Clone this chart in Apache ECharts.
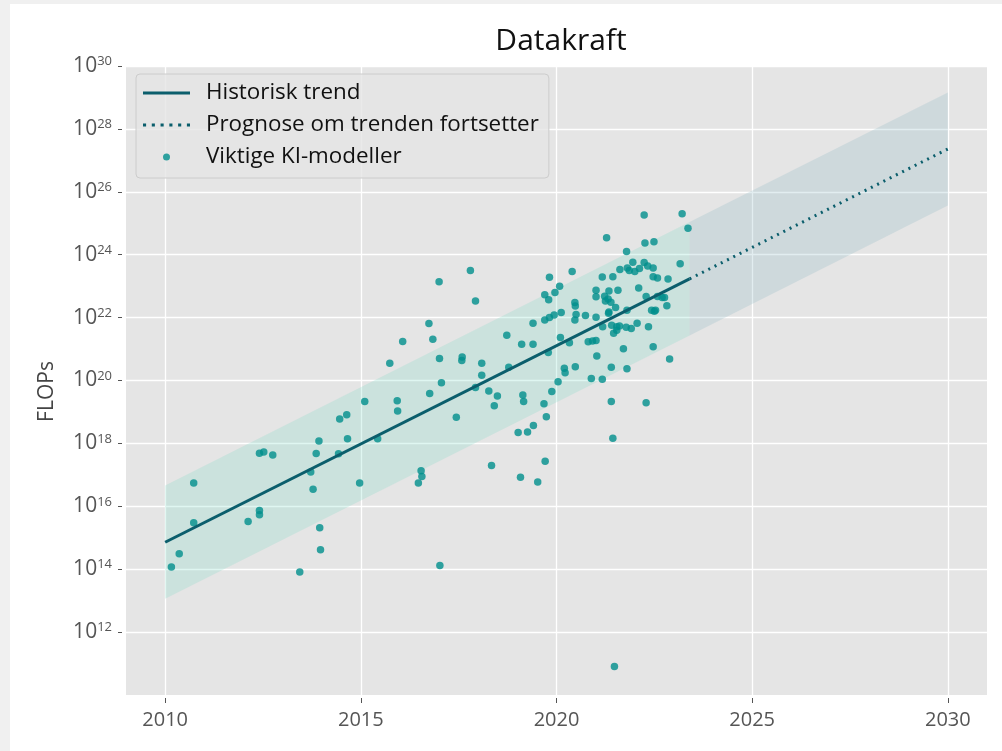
<!DOCTYPE html>
<html>
<head>
<meta charset="utf-8">
<title>Datakraft</title>
<script src="https://cdn.jsdelivr.net/npm/echarts@6.0.0/dist/echarts.min.js"></script>
<style>
  html, body { margin: 0; padding: 0; background: #f0f0f0; }
  #chart {
    position: absolute;
    left: 10px;
    top: 4px;
    width: 992px;
    height: 747px;
    background: #ffffff;
  }
</style>
</head>
<body>
<div id="chart"></div>
<script>
// tick positions
const yearTicks = [2010, 2015, 2020, 2025, 2030];
const flopTicks = [1e12, 1e14, 1e16, 1e18, 1e20, 1e22, 1e24, 1e26, 1e28, 1e30];

// historical trend + projection
const trendYears = [2010, 2023.4];
const trendFlops = [7.2e14, 1.7e23];
const forecastYears = [2023.4, 2030];
const forecastFlops = [1.7e23, 2.3e27];

// uncertainty bands
const bandYears = [2010, 2023.4];
const bandLow = [1.15e13, 2.7e21];
const bandHigh = [4.6e16, 1.1e25];
const forecastBandYears = [2023.4, 2030];
const forecastBandLow = [2.7e21, 3.7e25];
const forecastBandHigh = [1.1e25, 1.45e29];

// notable models: publication year and log10(FLOPs)
const modelYears = [
  2010.16, 2010.36, 2010.73, 2010.73, 2012.12, 2012.41, 2012.41, 2012.41, 2012.52, 2012.75,
  2013.44, 2013.72, 2013.78, 2013.86, 2013.93, 2013.95, 2013.97, 2014.43, 2014.66, 2014.46,
  2014.64, 2014.97, 2015.10, 2015.43, 2015.74, 2015.93, 2015.94, 2016.07, 2016.47, 2016.54,
  2016.56, 2016.74, 2016.76, 2016.84, 2017.00, 2017.01, 2017.06, 2017.02, 2017.44, 2017.59,
  2017.58, 2017.80, 2017.93, 2017.93, 2018.09, 2018.09, 2018.27, 2018.34, 2018.41, 2018.49,
  2018.73, 2018.78, 2019.02, 2019.08, 2019.11, 2019.14, 2019.16, 2019.26, 2019.40, 2019.40,
  2019.41, 2019.52, 2019.68, 2019.70, 2019.70, 2019.71, 2019.74, 2019.79, 2019.80, 2019.82,
  2019.82, 2019.88, 2019.94, 2019.96, 2020.04, 2020.08, 2020.10, 2020.12, 2020.20, 2020.22,
  2020.33, 2020.40, 2020.47, 2020.48, 2020.47, 2020.50, 2020.48, 2020.74, 2020.81, 2020.92,
  2021.01, 2020.89, 2021.01, 2021.01, 2021.01, 2021.03, 2021.17, 2021.17, 2021.18, 2021.23,
  2021.25, 2021.28, 2021.32, 2021.33, 2021.34, 2021.34, 2021.39, 2021.40, 2021.40, 2021.41,
  2021.44, 2021.44, 2021.46, 2021.48, 2021.51, 2021.54, 2021.54, 2021.57, 2021.61, 2021.62,
  2021.71, 2021.78, 2021.79, 2021.80, 2021.80, 2021.81, 2021.86, 2021.91, 2021.95, 2022.00,
  2022.06, 2022.10, 2022.12, 2022.24, 2022.24, 2022.26, 2022.29, 2022.29, 2022.33, 2022.35,
  2022.43, 2022.47, 2022.47, 2022.47, 2022.49, 2022.50, 2022.53, 2022.58, 2022.58, 2022.70,
  2022.76, 2022.82, 2022.85, 2022.89, 2023.16, 2023.21, 2023.36
];
const modelLog10Flops = [
  14.07, 14.49, 16.74, 15.48, 15.52, 15.87, 15.73, 17.69, 17.73, 17.63,
  13.91, 17.09, 16.54, 17.68, 18.08, 15.32, 14.62, 17.67, 18.15, 18.78,
  18.91, 16.74, 19.33, 18.15, 20.55, 19.36, 19.03, 21.24, 16.74, 17.13,
  16.95, 21.81, 19.59, 21.31, 23.14, 20.70, 19.93, 14.12, 18.83, 20.75,
  20.64, 23.50, 22.53, 19.78, 20.55, 20.17, 19.67, 17.30, 19.20, 19.51,
  21.44, 20.42, 18.35, 16.92, 21.15, 19.54, 19.33, 18.36, 21.82, 21.15,
  18.57, 16.77, 19.26, 22.73, 21.92, 17.43, 18.85, 20.89, 22.57, 23.28,
  22.00, 19.65, 22.08, 22.80, 19.96, 23.00, 21.37, 22.16, 20.39, 20.25,
  21.20, 23.47, 22.48, 22.37, 21.92, 22.10, 20.44, 22.07, 21.23, 21.26,
  21.27, 20.06, 22.87, 22.66, 22.01, 20.78, 23.29, 20.04, 21.71, 22.68,
  22.53, 24.54, 22.59, 22.14, 22.85, 22.18, 22.49, 20.42, 19.33, 21.76,
  23.30, 18.16, 21.50, 10.91, 22.32, 21.71, 21.60, 22.87, 21.73, 23.53,
  21.01, 21.69, 24.10, 22.23, 20.37, 23.58, 23.50, 21.65, 23.76, 23.47,
  21.82, 22.94, 23.56, 25.26, 23.75, 24.37, 22.67, 19.29, 23.64, 21.71,
  22.23, 23.58, 23.30, 21.07, 24.41, 22.20, 22.23, 23.26, 22.67, 22.64,
  22.64, 22.38, 23.23, 20.68, 23.71, 25.30, 24.84
];

const FONT = 'Open Sans';
const TEAL = '#008f8c';
const DARK = '#0b5e6c';

// legend glyphs: a solid bar and a row of dots
const SOLID_ICON = 'path://M0,0h47v3h-47z';
const DOTTED_ICON = 'path://M0,0h3v3h-3z M8.5,0h3v3h-3z M17,0h3v3h-3z M25.5,0h3v3h-3z M34,0h3v3h-3z M42.5,0h3v3h-3z';

function pairs(xs, ys) {
  return xs.map((x, i) => [x, ys[i]]);
}

// polygon between low and high, placed with the chart's own scales
function bandRenderer(years, low, high, fill) {
  return function (params, api) {
    const pts = [];
    for (let i = 0; i < years.length; i++) pts.push(api.coord([years[i], high[i]]));
    for (let i = years.length - 1; i >= 0; i--) pts.push(api.coord([years[i], low[i]]));
    return { type: 'polygon', shape: { points: pts }, style: { fill: fill } };
  };
}

const chart = echarts.init(document.getElementById('chart'));
chart.setOption({
  animation: false,
  title: {
    text: 'Datakraft',
    left: 546,
    top: 17,
    textAlign: 'center',
    textStyle: { fontFamily: FONT, fontSize: 30, fontWeight: 'normal', color: '#111' },
  },
  legend: {
    orient: 'vertical',
    left: 126,
    top: 70,
    padding: [8, 10, 10, 7],
    itemGap: 10,
    itemWidth: 47,
    itemHeight: 7,
    backgroundColor: 'rgba(229,229,229,0.8)',
    borderColor: '#cccccc',
    borderWidth: 1,
    borderRadius: 4,
    textStyle: { fontFamily: FONT, fontSize: 22.4, color: '#111', lineHeight: 22, padding: [0, 0, 0, 11] },
    data: [
      { name: 'Historisk trend', icon: SOLID_ICON },
      { name: 'Prognose om trenden fortsetter', icon: DOTTED_ICON },
      { name: 'Viktige KI-modeller', icon: 'circle' },
    ],
  },
  grid: {
    left: 116,
    right: 15,
    top: 62,
    bottom: 56,
    show: true,
    backgroundColor: '#e5e5e5',
    borderWidth: 0,
  },
  xAxis: {
    type: 'value',
    min: 2009,
    max: 2031,
    offset: 3,
    axisLine: { show: false },
    axisTick: { show: true, length: 5, lineStyle: { color: '#555' }, customValues: yearTicks },
    axisLabel: {
      customValues: yearTicks,
      fontFamily: FONT, fontSize: 20, color: '#555', margin: 12,
      formatter: (v) => String(v),
    },
    splitLine: { show: true, lineStyle: { color: '#ffffff', width: 1.3 } },
  },
  yAxis: {
    type: 'log',
    logBase: 10,
    min: 1e10,
    max: 1.001e30,
    offset: 4,
    name: 'FLOPs',
    nameLocation: 'middle',
    nameRotate: 90,
    nameGap: 64,
    nameTextStyle: { fontFamily: FONT, fontSize: 21, color: '#444', padding: [0, 22, 0, 0] },
    axisLine: { show: false },
    axisTick: { show: true, length: 4, lineStyle: { color: '#555' }, customValues: flopTicks },
    axisLabel: {
      customValues: flopTicks,
      fontFamily: FONT, fontSize: 21, color: '#555', margin: 10, lineHeight: 22,
      formatter: (v) => '10{sup|' + Math.round(Math.log10(v)) + '}',
      rich: {
        sup: { fontFamily: FONT, fontSize: 13, color: '#555', verticalAlign: 'top', lineHeight: 12 },
      },
    },
    splitLine: { show: true, lineStyle: { color: '#ffffff', width: 1.3 } },
  },
  series: [
    {
      name: 'band-historic',
      type: 'custom',
      silent: true,
      z: 1,
      renderItem: bandRenderer(bandYears, bandLow, bandHigh, 'rgba(128,220,200,0.25)'),
      data: [[bandYears[0], bandLow[0]]],
    },
    {
      name: 'band-forecast',
      type: 'custom',
      silent: true,
      z: 1,
      renderItem: bandRenderer(forecastBandYears, forecastBandLow, forecastBandHigh, 'rgba(140,185,195,0.25)'),
      data: [[forecastBandYears[0], forecastBandLow[0]]],
    },
    {
      name: 'Viktige KI-modeller',
      type: 'scatter',
      z: 2,
      symbol: 'circle',
      symbolSize: 7.5,
      itemStyle: { color: TEAL },
      data: modelYears.map((y, i) => [y, Math.pow(10, modelLog10Flops[i])]),
    },
    {
      name: 'Historisk trend',
      type: 'line',
      z: 3,
      symbol: 'none',
      lineStyle: { color: DARK, width: 3 },
      itemStyle: { color: DARK },
      data: pairs(trendYears, trendFlops),
    },
    {
      name: 'Prognose om trenden fortsetter',
      type: 'line',
      z: 3,
      symbol: 'none',
      lineStyle: { color: DARK, width: 3, type: [2, 5] },
      itemStyle: { color: DARK },
      data: pairs(forecastYears, forecastFlops),
    },
  ],
});
</script>
</body>
</html>
